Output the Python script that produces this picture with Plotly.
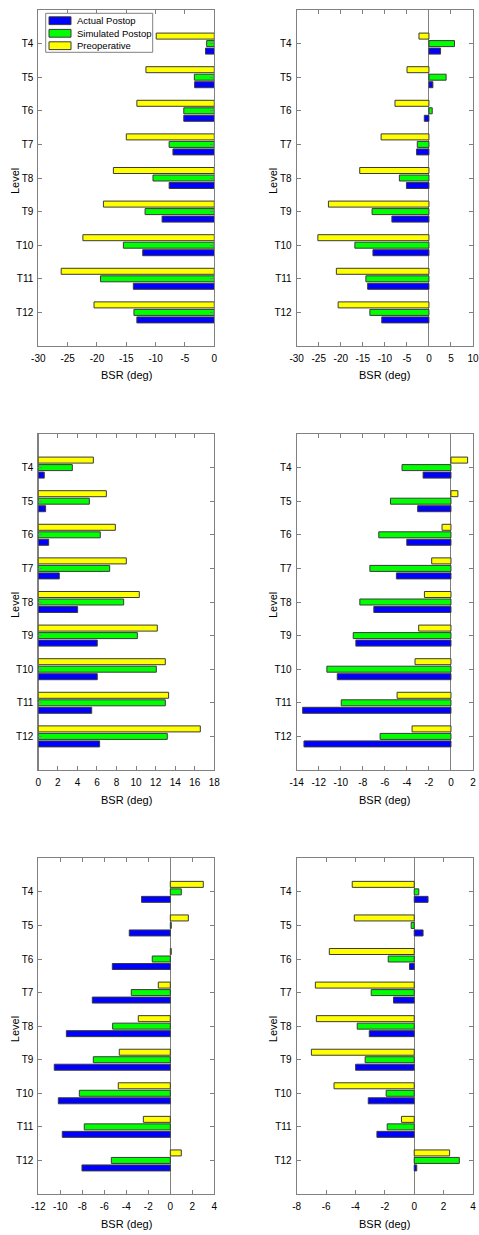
import plotly.graph_objects as go

levels = ["T4", "T5", "T6", "T7", "T8", "T9", "T10", "T11", "T12"]
level_pos = [1, 2, 3, 4, 5, 6, 7, 8, 9]
series_names = ["Actual Postop", "Simulated Postop", "Preoperative"]

# panel 1 (top-left)
p1_actual = [-1.5, -3.35, -5.2, -7.05, -7.7, -8.9, -12.2, -13.8, -13.2]
p1_sim = [-1.3, -3.4, -5.2, -7.7, -10.45, -11.8, -15.5, -19.4, -13.7]
p1_pre = [-9.9, -11.65, -13.2, -15.0, -17.2, -18.9, -22.4, -26.1, -20.5]
# panel 2 (top-right)
p2_actual = [2.64, 0.9, -1.05, -2.8, -5.1, -8.4, -12.7, -13.9, -10.7]
p2_sim = [5.8, 3.9, 0.75, -2.64, -6.7, -12.9, -16.8, -14.3, -13.4]
p2_pre = [-2.26, -4.97, -7.7, -10.85, -15.7, -22.8, -25.2, -21.0, -20.6]
# panel 3 (middle-left)
p3_actual = [0.61, 0.75, 1.06, 2.15, 4.02, 6.03, 6.03, 5.46, 6.27]
p3_sim = [3.48, 5.22, 6.34, 7.3, 8.73, 10.13, 12.07, 12.99, 13.19]
p3_pre = [5.63, 6.96, 7.88, 9.0, 10.33, 12.17, 12.99, 13.33, 16.57]
# panel 4 (middle-right)
p4_actual = [-2.53, -3.02, -4.01, -4.95, -7.0, -8.63, -10.32, -13.46, -13.34]
p4_sim = [-4.44, -5.49, -6.55, -7.36, -8.27, -8.87, -11.26, -9.96, -6.43]
p4_pre = [1.51, 0.63, -0.81, -1.75, -2.41, -2.93, -3.26, -4.89, -3.53]
# panel 5 (bottom-left)
p5_actual = [-2.61, -3.73, -5.27, -7.09, -9.45, -10.55, -10.18, -9.82, -8.03]
p5_sim = [1.0, 0.09, -1.64, -3.55, -5.24, -7.0, -8.27, -7.82, -5.36]
p5_pre = [3.0, 1.64, 0.09, -1.09, -2.91, -4.64, -4.73, -2.45, 1.0]
# panel 6 (bottom-right)
p6_actual = [0.94, 0.6, -0.32, -1.41, -3.06, -3.99, -3.13, -2.54, 0.17]
p6_sim = [0.31, -0.21, -1.77, -2.93, -3.88, -3.34, -1.91, -1.84, 3.07]
p6_pre = [-4.22, -4.08, -5.78, -6.73, -6.66, -7.0, -5.46, -0.87, 2.41]

x_ranges = [[-30, 0], [-30, 10], [0, 18], [-14, 2], [-12, 4], [-8, 4]]
x_dticks = [5, 5, 2, 2, 2, 2]
x_title = "BSR (deg)"
y_title = "Level"

panels = [
    (p1_actual, p1_sim, p1_pre),
    (p2_actual, p2_sim, p2_pre),
    (p3_actual, p3_sim, p3_pre),
    (p4_actual, p4_sim, p4_pre),
    (p5_actual, p5_sim, p5_pre),
    (p6_actual, p6_sim, p6_pre),
]

colors = {"Actual Postop": "#0000FF", "Simulated Postop": "#00FF00", "Preoperative": "#FFFF00"}
edge = "#3a3a3a"
axis_gray = "#808080"
FONT = "Liberation Sans, Arial, sans-serif"

W, H = 479, 1235
x_px = [(38.3, 214.3), (296.7, 473.0)]
x_doms = [[a / W, b / W] for (a, b) in x_px]
y_px = [(10, 346), (434, 770), (858.3, 1194)]
y_doms = [[1 - b / H, 1 - t / H] for (t, b) in y_px]
ytitle_x = [15, 273]

fig = go.Figure()
layout = {}
annotations = []
for i, (act, sim, pre) in enumerate(panels):
    n = i + 1
    xa = "x" if n == 1 else f"x{n}"
    ya = "y" if n == 1 else f"y{n}"
    # draw order: Preoperative (top), Simulated, Actual (bottom) with reversed y axis
    for name, vals in [("Preoperative", pre), ("Simulated Postop", sim), ("Actual Postop", act)]:
        fig.add_trace(go.Bar(
            x=vals, y=level_pos, orientation="h", name=name,
            marker=dict(color=colors[name], line=dict(color=edge, width=1)),
            xaxis=xa, yaxis=ya, showlegend=False,
        ))
    col = i % 2
    row = i // 2
    xkey = "xaxis" if n == 1 else f"xaxis{n}"
    ykey = "yaxis" if n == 1 else f"yaxis{n}"
    lo, hi = x_ranges[i]
    tv = list(range(lo, hi + 1, x_dticks[i]))
    tt = [str(v) for v in tv]  # plain hyphen-minus labels
    layout[xkey] = dict(
        domain=x_doms[col], anchor=ya, range=x_ranges[i],
        tickmode="array", tickvals=tv, ticktext=tt,
        showline=True, linecolor=axis_gray, linewidth=1, mirror="ticks",
        ticks="inside", ticklen=4, tickcolor=axis_gray, showgrid=False,
        zeroline=True, zerolinecolor=axis_gray, zerolinewidth=1,
        tickfont=dict(family=FONT, size=10, color="#000"), ticklabelstandoff=3,
        automargin=False, fixedrange=True,
    )
    layout[ykey] = dict(
        domain=y_doms[row], anchor=xa, range=[10, 0],
        tickmode="array", tickvals=level_pos, ticktext=levels,
        showline=True, linecolor=axis_gray, linewidth=1, mirror="ticks",
        ticks="inside", ticklen=4, tickcolor=axis_gray, showgrid=False, zeroline=False,
        tickfont=dict(family=FONT, size=10, color="#000"), ticklabelstandoff=2,
        automargin=False, fixedrange=True,
    )
    # axis titles
    x0, x1 = x_px[col]
    t, b = y_px[row]
    annotations.append(dict(xref="paper", yref="paper", x=(x0 + x1) / 2 / W, y=1 - (b + 29.5) / H,
                            text=x_title, showarrow=False, xanchor="center", yanchor="middle",
                            font=dict(family=FONT, size=11, color="#000")))
    annotations.append(dict(xref="paper", yref="paper", x=ytitle_x[col] / W, y=1 - ((t + b) / 2 + 3) / H,
                            text=y_title, showarrow=False, xanchor="center", yanchor="middle",
                            textangle=-90, font=dict(family=FONT, size=11, color="#000")))

# custom legend inside the top-left panel
shapes = [dict(type="rect", xref="paper", yref="paper",
               x0=45.7 / W, x1=152.7 / W, y0=1 - 52.3 / H, y1=1 - 13.3 / H,
               line=dict(color=axis_gray, width=1), fillcolor="white", layer="above")]
row_centers = [20.7, 33.3, 45.7]
for name, yc in zip(series_names, row_centers):
    shapes.append(dict(type="rect", xref="paper", yref="paper",
                       x0=49 / W, x1=71 / W, y0=1 - (yc + 3.9) / H, y1=1 - (yc - 3.9) / H,
                       line=dict(color=edge, width=1), fillcolor=colors[name], layer="above"))
    annotations.append(dict(xref="paper", yref="paper", x=74.5 / W, y=1 - yc / H,
                            text=name, showarrow=False, xanchor="left", yanchor="middle",
                            font=dict(family=FONT, size=9.5, color="#000")))

fig.update_layout(
    width=W, height=H, margin=dict(l=0, r=0, t=0, b=0),
    paper_bgcolor="white", plot_bgcolor="white",
    barmode="group", bargap=0.33, bargroupgap=0.2,
    shapes=shapes, annotations=annotations, showlegend=False,
    font=dict(family=FONT, size=10, color="#000"),
    **layout,
)

fig.write_html(
    "out.html",
    config={"displayModeBar": False},
    post_script="document.body.style.margin='0';document.body.style.overflow='hidden';",
)
